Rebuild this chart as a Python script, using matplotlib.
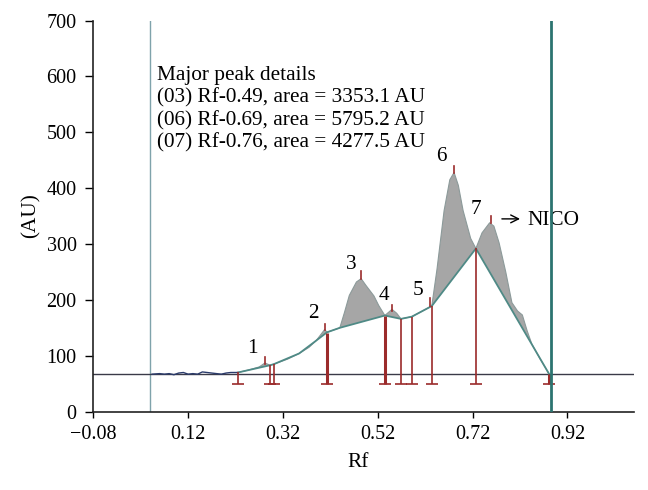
import matplotlib
matplotlib.use("Agg")
import matplotlib.pyplot as plt
import numpy as np

plt.rcParams['font.family'] = ['Liberation Serif', 'DejaVu Serif']

# noisy flat part of the densitogram
noise_x = [0.044, 0.06, 0.07, 0.08, 0.09, 0.10, 0.11, 0.12, 0.13, 0.14, 0.15, 0.16, 0.17, 0.18, 0.19, 0.20, 0.21, 0.225]
noise_y = [67, 68, 67, 68, 66, 69, 70, 67, 68, 67, 71, 70, 69, 68, 67, 69, 70, 70]

# signal of the track (peaks region)
sig_x = [0.225, 0.25, 0.27, 0.282, 0.293, 0.301, 0.33, 0.354, 0.375, 0.39, 0.40, 0.408, 0.413,
         0.44, 0.45, 0.46, 0.475, 0.485, 0.495, 0.512, 0.522, 0.535, 0.55, 0.56, 0.569, 0.592,
         0.634, 0.645, 0.66, 0.672, 0.681, 0.69, 0.70, 0.716, 0.727, 0.74, 0.756, 0.765, 0.776,
         0.79, 0.803, 0.815, 0.825, 0.835, 0.845, 0.862, 0.881]
sig_y = [70, 75, 80, 87, 83, 85, 94, 104, 115, 127, 138, 147, 142,
         150, 178, 208, 232, 238, 226, 207, 190, 172, 183, 176, 166, 170,
         189, 255, 360, 415, 428, 405, 360, 310, 292, 320, 338, 332, 302,
         250, 195, 180, 173, 145, 121, 95, 68]

# baseline drawn under the peaks
base_x = [0.225, 0.293, 0.301, 0.354, 0.39, 0.413, 0.44, 0.535, 0.569, 0.592, 0.634, 0.727, 0.881]
base_y = [70, 83, 85, 104, 127, 142, 150, 172, 166, 170, 189, 292, 68]

# peak start/end markers (x, top value, thick?)
mark_x = [0.225, 0.293, 0.301, 0.413, 0.535, 0.569, 0.592, 0.634, 0.727, 0.881]
mark_top = [70, 83, 85, 141, 171, 166, 170, 189, 292, 68]
mark_thick = [False, False, False, True, True, False, False, False, False, True]

# peak maxima markers
peak_x = [0.282, 0.408, 0.485, 0.55, 0.63, 0.681, 0.758]
peak_lo = [86, 146, 238, 180, 189, 428, 338]
peak_hi = [97, 157, 251, 191, 203, 439, 350]

# peak number labels
lab_text = ['1', '2', '3', '4', '5', '6', '7']
lab_x = [0.255, 0.384, 0.464, 0.533, 0.605, 0.654, 0.727]
lab_y = [113, 175, 263, 207, 217, 457, 361]

details = ['Major peak details',
           '(03) Rf-0.49, area = 3353.1 AU',
           '(06) Rf-0.69, area = 5795.2 AU',
           '(07) Rf-0.76, area = 4277.5 AU']
details_y = [602, 561, 520, 481]

xticks = [-0.08, 0.12, 0.32, 0.52, 0.72, 0.92]
yticks = [0, 100, 200, 300, 400, 500, 600, 700]
base_level = 67
front_lo, front_hi = 0.04, 0.885

fig = plt.figure(figsize=(6.48, 4.90), dpi=100)
ax = fig.add_axes([0.144, 0.160, 0.834, 0.798])

ax.set_xlim(-0.08, 1.06)
ax.set_ylim(0, 700)

# vertical application/front lines
ax.axvline(front_lo, color='#7fa3ab', lw=1.0, zorder=1)
ax.axvline(front_hi, color='#2c7470', lw=2.0, zorder=8)
# horizontal base level
ax.axhline(base_level, color='#3a3a48', lw=1.0, zorder=2)

# filled peak areas
poly_x = list(sig_x) + list(base_x[::-1])
poly_y = list(sig_y) + list(base_y[::-1])
ax.fill(poly_x, poly_y, color='#a6a6a6', lw=0, zorder=3)
ax.plot(sig_x, sig_y, color='#8c9a9a', lw=0.8, zorder=4)
ax.plot(base_x, base_y, color='#4f8a86', lw=1.3, zorder=4)
ax.plot(noise_x, noise_y, color='#2b3b6b', lw=1.0, zorder=4)

red = '#9b2b2b'
bottom = 50
for x, t, th in zip(mark_x, mark_top, mark_thick):
    ax.plot([x, x], [bottom, t], color=red, lw=2.2 if th else 1.2, zorder=6, solid_capstyle='butt')
    ax.plot([x], [bottom], marker='_', color=red, ms=8, mew=1.2, zorder=6)
for x, lo, hi in zip(peak_x, peak_lo, peak_hi):
    ax.plot([x, x], [lo, hi], color=red, lw=1.2, zorder=6)

fs = 15.3
for t, x, y in zip(lab_text, lab_x, lab_y):
    ax.text(x, y, t, fontsize=fs, ha='center', va='center', color='black', zorder=7)
ax.annotate('', xy=(0.826, 345), xytext=(0.776, 345),
            arrowprops=dict(arrowstyle='->', color='black', lw=1.0, mutation_scale=14), zorder=7)
ax.text(0.835, 343, 'NICO', fontsize=fs, ha='left', va='center', zorder=7)

for t, y in zip(details, details_y):
    ax.text(0.054, y, t, fontsize=fs, ha='left', va='center', zorder=7)

ax.set_xticks(xticks)
ax.set_xticklabels(['\u22120.08', '0.12', '0.32', '0.52', '0.72', '0.92'])
ax.set_yticks(yticks)
ax.tick_params(axis='x', direction='out', length=4, width=1, labelsize=14.5, pad=6)
ax.tick_params(axis='y', direction='out', length=6, width=1, labelsize=14.5, pad=6)
for s in ['top', 'right']:
    ax.spines[s].set_visible(False)
for s in ['left', 'bottom']:
    ax.spines[s].set_color('#222222')
    ax.spines[s].set_linewidth(1.2)

ax.set_xlabel('Rf', fontsize=fs, labelpad=6)
ax.xaxis.label.set_x(0.490)
ax.set_ylabel('(AU)', fontsize=fs, labelpad=4)
ax.yaxis.label.set_y(0.50)

fig.savefig('out.png', dpi=100)
